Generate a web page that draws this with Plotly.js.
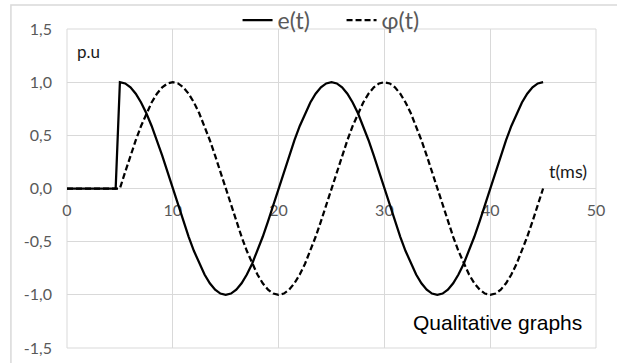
<!DOCTYPE html>
<html>
<head>
<meta charset="utf-8">
<script src="https://cdn.plot.ly/plotly-3.0.1.min.js"></script>
<style>
  html, body { margin: 0; padding: 0; background: #fff; }
  #chart { width: 617px; height: 363px; }
</style>
</head>
<body>
<div id="chart"></div>
<script>
// Time axis in ms: flat start, switching instant, then 0.5 ms steps to 45 ms
const time = [0, 1, 2, 3, 4, 4.6,
  5, 5.5, 6, 6.5, 7, 7.5, 8, 8.5, 9, 9.5,
  10, 10.5, 11, 11.5, 12, 12.5, 13, 13.5, 14, 14.5,
  15, 15.5, 16, 16.5, 17, 17.5, 18, 18.5, 19, 19.5,
  20, 20.5, 21, 21.5, 22, 22.5, 23, 23.5, 24, 24.5,
  25, 25.5, 26, 26.5, 27, 27.5, 28, 28.5, 29, 29.5,
  30, 30.5, 31, 31.5, 32, 32.5, 33, 33.5, 34, 34.5,
  35, 35.5, 36, 36.5, 37, 37.5, 38, 38.5, 39, 39.5,
  40, 40.5, 41, 41.5, 42, 42.5, 43, 43.5, 44, 44.5,
  45];

// e(t) in p.u
const eValues = [0, 0, 0, 0, 0, 0,
  1, 0.988, 0.951, 0.891, 0.809, 0.707, 0.588, 0.454, 0.309, 0.156,
  0, -0.156, -0.309, -0.454, -0.588, -0.707, -0.809, -0.891, -0.951, -0.988,
  -1, -0.988, -0.951, -0.891, -0.809, -0.707, -0.588, -0.454, -0.309, -0.156,
  0, 0.156, 0.309, 0.454, 0.588, 0.707, 0.809, 0.891, 0.951, 0.988,
  1, 0.988, 0.951, 0.891, 0.809, 0.707, 0.588, 0.454, 0.309, 0.156,
  0, -0.156, -0.309, -0.454, -0.588, -0.707, -0.809, -0.891, -0.951, -0.988,
  -1, -0.988, -0.951, -0.891, -0.809, -0.707, -0.588, -0.454, -0.309, -0.156,
  0, 0.156, 0.309, 0.454, 0.588, 0.707, 0.809, 0.891, 0.951, 0.988,
  1];

// φ(t) in p.u
const phiValues = [0, 0, 0, 0, 0, 0,
  0, 0.156, 0.309, 0.454, 0.588, 0.707, 0.809, 0.891, 0.951, 0.988,
  1, 0.988, 0.951, 0.891, 0.809, 0.707, 0.588, 0.454, 0.309, 0.156,
  0, -0.156, -0.309, -0.454, -0.588, -0.707, -0.809, -0.891, -0.951, -0.988,
  -1, -0.988, -0.951, -0.891, -0.809, -0.707, -0.588, -0.454, -0.309, -0.156,
  0, 0.156, 0.309, 0.454, 0.588, 0.707, 0.809, 0.891, 0.951, 0.988,
  1, 0.988, 0.951, 0.891, 0.809, 0.707, 0.588, 0.454, 0.309, 0.156,
  0, -0.156, -0.309, -0.454, -0.588, -0.707, -0.809, -0.891, -0.951, -0.988,
  -1, -0.988, -0.951, -0.891, -0.809, -0.707, -0.588, -0.454, -0.309, -0.156,
  0];

const xTickVals = [0, 10, 20, 30, 40, 50];
const yTickVals = [-1.5, -1, -0.5, 0, 0.5, 1, 1.5];
const yTickText = ['-1,5', '-1,0', '-0,5', '0,0', '0,5', '1,0', '1,5'];

const gridColor = '#d9d9d9';
const textColor = '#595959';
const baseFont = 'Lato, "Open Sans", sans-serif';

const traces = [
  {
    x: time, y: eValues, name: 'e(t)', type: 'scatter', mode: 'lines',
    line: { color: '#000', width: 2.25 }
  },
  {
    x: time, y: phiValues, name: 'φ(t)', type: 'scatter', mode: 'lines',
    line: { color: '#000', width: 2.25, dash: '6px,3px' }
  }
];

const layout = {
  width: 617, height: 363,
  margin: { l: 67, r: 21, t: 29, b: 15, autoexpand: false },
  paper_bgcolor: '#fff', plot_bgcolor: '#fff',
  font: { family: baseFont, color: textColor, size: 16 },
  showlegend: true,
  legend: {
    orientation: 'h', x: 0.519, xanchor: 'center', y: 1.095, yanchor: 'top',
    bgcolor: 'rgba(0,0,0,0)',
    font: { family: baseFont, size: 23, color: textColor },
    itemwidth: 30, tracegroupgap: 0, entrywidth: 59
  },
  xaxis: {
    range: [0, 50], tickvals: xTickVals, ticktext: xTickVals.map(String),
    anchor: 'free', position: 0.5,
    showgrid: true, gridcolor: gridColor, gridwidth: 1,
    zeroline: false, showline: false, ticks: '',
    ticklabelstandoff: 10, layer: 'below traces',
    tickfont: { family: baseFont, size: 16, color: textColor },
    fixedrange: true
  },
  yaxis: {
    range: [-1.5, 1.5], tickvals: yTickVals, ticktext: yTickText,
    showgrid: true, gridcolor: gridColor, gridwidth: 1,
    zeroline: true, zerolinecolor: gridColor, zerolinewidth: 1,
    showline: false, ticks: '',
    ticklabelstandoff: 14, layer: 'below traces',
    tickfont: { family: baseFont, size: 16, color: textColor },
    fixedrange: true
  },
  shapes: [
    // plot area frame
    { type: 'rect', xref: 'paper', yref: 'paper', x0: 0, x1: 1, y0: 0, y1: 1,
      line: { color: gridColor, width: 1 }, layer: 'below' },
    // chart area frame
    { type: 'rect', xref: 'paper', yref: 'paper', x0: -0.106, x1: 1.06, y0: -0.08, y1: 1.075,
      line: { color: gridColor, width: 1.5 }, layer: 'below' }
  ],
  annotations: [
    { text: 'p.u', xref: 'paper', yref: 'paper', x: 0.040, y: 0.93,
      xanchor: 'center', yanchor: 'middle',
      showarrow: false, font: { family: baseFont, size: 17, color: '#1a1a1a' } },
    { text: 't(ms)', xref: 'paper', yref: 'paper', x: 0.947, y: 0.555,
      xanchor: 'center', yanchor: 'middle',
      showarrow: false, font: { family: baseFont, size: 18, color: '#1a1a1a' } },
    { text: 'Qualitative graphs', xref: 'paper', yref: 'paper', x: 0.813, y: 0.08,
      xanchor: 'center', yanchor: 'middle',
      showarrow: false, font: { family: '"Liberation Sans", Arial, sans-serif', size: 21, color: '#000' } }
  ]
};

Plotly.newPlot('chart', traces, layout, { displayModeBar: false, staticPlot: true });
</script>
</body>
</html>
